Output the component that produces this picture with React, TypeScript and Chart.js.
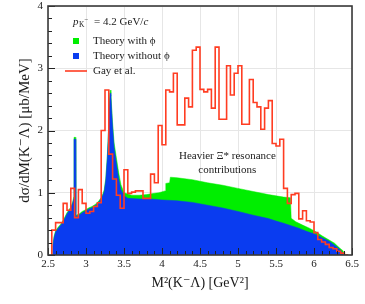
import React, { useEffect, useRef } from 'react';
import { Chart, registerables } from 'chart.js';

Chart.register(...registerables);

// ---------- data ----------
const xTicks = [2.5, 3, 3.5, 4, 4.5, 5, 5.5, 6, 6.5];
const xTickLabels = ['2.5', '3', '3.5', '4', '4.5', '5', '5.5', '6', '6.5'];
const yTicks = [0, 1, 2, 3, 4];
const yTickLabels = ['0', '1', '2', '3', '4'];

// Gay et al. histogram (bins of 0.05 GeV^2 starting at 2.55)
const gayBinStart = 2.55;
const gayBinWidth = 0.05;
const gayValues = [
  0.12, 0.40, 0.52, 0.52, 0.83, 0.72, 1.07, 0.60, 1.05, 0.83,
  0.67, 0.70, 0.78, 0.84, 2.00, 2.65, 1.62, 1.22, 0.96, 0.75,
  1.37, 0.99, 1.01, 1.03, 1.03, 0.91, 0.91, 1.30, 1.16, 2.08,
  1.77, 2.65, 2.62, 2.92, 2.09, 2.09, 2.52, 2.38, 3.29, 3.34,
  2.66, 2.62, 2.66, 2.36, 3.34, 2.18, 2.18, 3.04, 2.57, 2.92,
  3.04, 2.10, 2.10, 2.82, 2.45, 2.38, 2.02, 2.36, 2.48, 1.79,
  1.75, 1.86, 1.07, 0.83, 0.97, 0.99, 0.58, 0.71, 0.55, 0.53,
  0.36, 0.25, 0.21, 0.17, 0.12, 0.10, 0.06, 0.03,
];

// Theory without phi (blue)
const withoutPhiX = [
  2.555, 2.565, 2.58, 2.60, 2.63, 2.67, 2.71, 2.75, 2.80, 2.825,
  2.838, 2.842, 2.862, 2.866, 2.87, 2.91, 2.95, 3.00, 3.04, 3.08,
  3.13, 3.17, 3.21, 3.24, 3.26, 3.28, 3.295, 3.305, 3.318, 3.328,
  3.338, 3.35, 3.37, 3.40, 3.43, 3.46, 3.50, 3.55, 3.70, 3.85,
  4.00, 4.20, 4.40, 4.60, 4.80, 5.00, 5.20, 5.40, 5.50, 5.60,
  5.70, 5.80, 5.90, 6.00, 6.10, 6.20, 6.28, 6.33, 6.36, 6.39,
];
const withoutPhiY = [
  0, 0.15, 0.28, 0.37, 0.42, 0.48, 0.56, 0.66, 0.75, 0.83,
  0.90, 1.86, 1.86, 0.64, 0.62, 0.64, 0.68, 0.71, 0.74, 0.76,
  0.80, 0.85, 0.92, 1.02, 1.20, 1.55, 1.95, 2.35, 2.60, 2.55,
  2.30, 2.05, 1.72, 1.47, 1.22, 1.05, 0.95, 0.91, 0.90, 0.90,
  0.885, 0.87, 0.845, 0.80, 0.755, 0.70, 0.64, 0.585, 0.545, 0.51,
  0.47, 0.43, 0.38, 0.34, 0.28, 0.22, 0.15, 0.10, 0.06, 0,
];

// Theory with phi (green)
const withPhiX = [
  2.555, 2.565, 2.58, 2.60, 2.63, 2.67, 2.71, 2.75, 2.80, 2.825,
  2.838, 2.842, 2.862, 2.866, 2.87, 2.91, 2.95, 3.00, 3.04, 3.08,
  3.13, 3.17, 3.21, 3.24, 3.26, 3.28, 3.295, 3.305, 3.318, 3.328,
  3.338, 3.35, 3.37, 3.40, 3.43, 3.46, 3.50, 3.60, 3.70, 3.80,
  3.90, 3.96, 4.04, 4.05, 4.10, 4.11, 4.20, 4.40, 4.60, 4.80,
  5.00, 5.20, 5.40, 5.60, 5.69, 5.70, 5.76, 5.85, 5.94, 6.03,
  6.11, 6.20, 6.27, 6.33, 6.38, 6.41,
];
const withPhiY = [
  0, 0.17, 0.30, 0.39, 0.44, 0.50, 0.58, 0.68, 0.77, 0.85,
  0.93, 1.89, 1.89, 0.67, 0.64, 0.66, 0.70, 0.73, 0.76, 0.78,
  0.82, 0.87, 0.94, 1.05, 1.23, 1.58, 1.98, 2.40, 2.65, 2.60,
  2.36, 2.12, 1.80, 1.56, 1.32, 1.13, 1.00, 0.96, 0.96, 0.97,
  0.99, 1.00, 1.03, 1.15, 1.16, 1.25, 1.24, 1.21, 1.16, 1.12,
  1.07, 1.02, 0.97, 0.93, 0.92, 0.59, 0.535, 0.48, 0.43, 0.37,
  0.305, 0.24, 0.19, 0.12, 0.07, 0,
];

const annotationLines = ['Heavier \u039E* resonance', 'contributions'];
const annotationX = 4.86;
const annotationY = [1.59, 1.37];

const legendTitleParts = { p: 'p', sub: 'K', sup: '\u2212', mid: ' = 4.2 GeV/', c: 'c' };

// ---------- style ----------
const SERIF = "'Liberation Serif', 'Times New Roman', 'DejaVu Serif', serif";
const GREEN = '#00ee00';
const BLUE = '#0a3cf0';
const RED = '#ff3d22';
const TEXT = '#1a1a1a';

const decorPlugin = {
  id: 'decor',
  afterDatasetsDraw(chart: any) {
    const { ctx, chartArea: a, scales } = chart;
    const xs = scales.x;
    const ys = scales.y;
    ctx.save();
    ctx.strokeStyle = '#222';
    ctx.lineWidth = 1;
    for (let i = 0; i <= 40; i++) {
      const v = 2.5 + i * 0.1;
      const px = Math.round(xs.getPixelForValue(v)) + 0.5;
      const len = i % 5 === 0 ? 7 : 4;
      ctx.beginPath();
      ctx.moveTo(px, a.bottom);
      ctx.lineTo(px, a.bottom - len);
      ctx.stroke();
    }
    for (let i = 0; i <= 20; i++) {
      const v = i * 0.2;
      const py = Math.round(ys.getPixelForValue(v)) + 0.5;
      const len = i % 5 === 0 ? 7 : 4;
      ctx.beginPath();
      ctx.moveTo(a.left, py);
      ctx.lineTo(a.left + len, py);
      ctx.stroke();
    }
    ctx.strokeStyle = '#3a3a3a';
    ctx.lineWidth = 1.6;
    ctx.strokeRect(a.left, a.top, a.right - a.left, a.bottom - a.top);

    // annotation
    ctx.fillStyle = TEXT;
    ctx.font = `11px ${SERIF}`;
    ctx.textAlign = 'center';
    ctx.textBaseline = 'middle';
    annotationLines.forEach((t, i) => {
      ctx.fillText(t, xs.getPixelForValue(annotationX), ys.getPixelForValue(annotationY[i]));
    });
    ctx.restore();
  },
  afterDraw(chart: any) {
    const { ctx, chartArea: a } = chart;
    ctx.save();
    ctx.textBaseline = 'middle';
    ctx.textAlign = 'left';
    ctx.fillStyle = TEXT;
    // title
    let x = a.left + 25;
    const ty = a.top + 16;
    ctx.font = `italic 11px ${SERIF}`;
    ctx.fillText(legendTitleParts.p, x, ty);
    x += ctx.measureText(legendTitleParts.p).width + 0.5;
    ctx.font = `7.5px ${SERIF}`;
    ctx.fillText(legendTitleParts.sub, x, ty + 3);
    x += ctx.measureText(legendTitleParts.sub).width;
    ctx.font = `7px ${SERIF}`;
    ctx.fillText(legendTitleParts.sup, x, ty - 2);
    x += ctx.measureText(legendTitleParts.sup).width + 3;
    ctx.font = `11px ${SERIF}`;
    ctx.fillText(legendTitleParts.mid, x, ty);
    x += ctx.measureText(legendTitleParts.mid).width;
    ctx.font = `italic 11px ${SERIF}`;
    ctx.fillText(legendTitleParts.c, x, ty);

    // entries
    const ds = chart.data.datasets;
    const entries = [ds[0], ds[1], ds[2]];
    entries.forEach((d: any, i: number) => {
      const y = a.top + 35 + i * 15;
      if (d.legendKind === 'box') {
        ctx.fillStyle = d.backgroundColor;
        ctx.fillRect(a.left + 25, y - 3, 6, 6);
      } else {
        ctx.strokeStyle = d.borderColor;
        ctx.lineWidth = 1.6;
        ctx.beginPath();
        ctx.moveTo(a.left + 17, y);
        ctx.lineTo(a.left + 39, y);
        ctx.stroke();
      }
      ctx.fillStyle = TEXT;
      ctx.font = `11px ${SERIF}`;
      ctx.fillText(d.label, a.left + 45, y);
    });
    ctx.restore();
  },
};

export default function App() {
  const ref = useRef<HTMLCanvasElement>(null);
  useEffect(() => {
    const canvas = ref.current;
    if (!canvas) return;
    const gayPoints = [
      { x: gayBinStart, y: 0 },
      ...gayValues.map((v, i) => ({ x: gayBinStart + i * gayBinWidth, y: v })),
      { x: gayBinStart + gayValues.length * gayBinWidth, y: 0 },
    ];
    const greenPts = withPhiX.map((x, i) => ({ x, y: withPhiY[i] }));
    const bluePts = withoutPhiX.map((x, i) => ({ x, y: withoutPhiY[i] }));

    const chart = new Chart(canvas, {
      type: 'line',
      data: {
        datasets: [
          {
            label: 'Theory with \u03D5',
            data: greenPts,
            backgroundColor: GREEN,
            borderColor: GREEN,
            borderWidth: 0.5,
            fill: 'origin',
            pointRadius: 0,
            tension: 0,
            order: 3,
            legendKind: 'box',
          } as any,
          {
            label: 'Theory without \u03D5',
            data: bluePts,
            backgroundColor: BLUE,
            borderColor: BLUE,
            borderWidth: 0.5,
            fill: 'origin',
            pointRadius: 0,
            tension: 0,
            order: 2,
            legendKind: 'box',
          } as any,
          {
            label: 'Gay et al.',
            data: gayPoints,
            stepped: 'after',
            borderColor: RED,
            backgroundColor: RED,
            borderWidth: 1.6,
            fill: false,
            pointRadius: 0,
            order: 1,
            legendKind: 'line',
          } as any,
        ],
      },
      options: {
        animation: false,
        responsive: false,
        maintainAspectRatio: false,
        events: [],
        layout: { padding: { top: 6, right: 13, left: 0, bottom: 0 } },
        plugins: {
          legend: { display: false },
          tooltip: { enabled: false },
        },
        scales: {
          x: {
            type: 'linear',
            min: 2.5,
            max: 6.5,
            afterBuildTicks: (s: any) => {
              s.ticks = xTicks.map((v) => ({ value: v }));
            },
            afterFit: (s: any) => {
              s.height = 49;
            },
            ticks: {
              callback: (_v: any, i: number) => xTickLabels[i],
              font: { family: SERIF, size: 11, lineHeight: 1 },
              color: TEXT,
              padding: 4,
              maxRotation: 0,
              autoSkip: false,
            },
            grid: { color: '#e6e6e6', drawTicks: false, lineWidth: 1 },
            border: { display: false },
            title: {
              display: true,
              text: 'M\u00B2(K\u207B\u039B) [GeV\u00B2]',
              font: { family: SERIF, size: 14 },
              color: TEXT,
              padding: { top: 0, bottom: 12 },
            },
          },
          y: {
            type: 'linear',
            min: 0,
            max: 4,
            afterBuildTicks: (s: any) => {
              s.ticks = yTicks.map((v) => ({ value: v }));
            },
            afterFit: (s: any) => {
              s.width = 48;
              s.paddingTop = 0;
              s.paddingBottom = 0;
            },
            ticks: {
              callback: (_v: any, i: number) => yTickLabels[i],
              font: { family: SERIF, size: 11, lineHeight: 1 },
              color: TEXT,
              padding: 5,
            },
            grid: { color: '#e6e6e6', drawTicks: false, lineWidth: 1 },
            border: { display: false },
            title: {
              display: true,
              text: 'd\u03C3/dM(K\u207B\u039B) [\u03BCb/MeV]',
              font: { family: SERIF, size: 15 },
              color: TEXT,
              padding: { top: 16, bottom: 0 },
            },
          },
        },
      } as any,
      plugins: [decorPlugin],
    });
    return () => chart.destroy();
  }, []);

  return (
    <div style={{ position: 'fixed', left: 0, top: 0, width: 365, height: 304, background: '#fff' }}>
      <canvas ref={ref} width={365} height={304} style={{ display: 'block', width: 365, height: 304 }} />
    </div>
  );
}
